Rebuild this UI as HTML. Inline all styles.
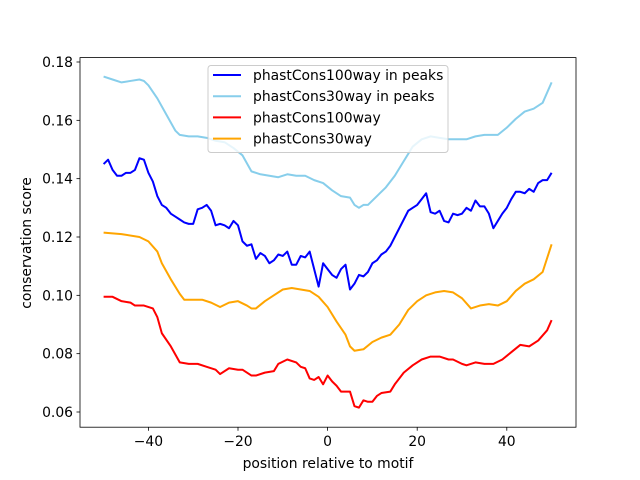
<!DOCTYPE html>
<html><head><meta charset="utf-8"><style>
body{margin:0;background:#fff}
svg{display:block;font-family:"DejaVu Sans","Liberation Sans",sans-serif}
</style></head><body>
<svg id="chart" width="640" height="480">
<rect x="0" y="0" width="640" height="480" fill="#fff"/>
<g id="series"></g>
<rect x="80" y="57.6" width="496" height="369.6" fill="none" stroke="#000" stroke-width="0.8"/>
<g id="axes"></g>
<text x="328" y="468" text-anchor="middle" font-size="13.9">position relative to motif</text>
<text transform="translate(31,243) rotate(-90)" text-anchor="middle" font-size="13.9">conservation score</text>
<g id="legend"></g>
</svg>
<script>
const xTicks=[-40,-20,0,20,40];
const yTicks=[0.06,0.08,0.10,0.12,0.14,0.16,0.18];
const yTickLabels=["0.06","0.08","0.10","0.12","0.14","0.16","0.18"];
const seriesNames=["phastCons100way in peaks","phastCons30way in peaks","phastCons100way","phastCons30way"];
const seriesColors=["#0000ff","#87ceeb","#ff0000","#ffa500"];
const blueX=[-50,-49,-48,-47,-46,-45,-44,-43,-42,-41,-40,-39,-38,-37,-36,-35,-34,-33,-32,-31,-30,-29,-28,-27,-26,-25,-24,-23,-22,-21,-20,-19,-18,-17,-16,-15,-14,-13,-12,-11,-10,-9,-8,-7,-6,-5,-4,-3,-2,-1,0,1,2,3,4,5,6,7,8,9,10,11,12,13,14,15,16,17,18,19,20,21,22,23,24,25,26,27,28,29,30,31,32,33,34,35,36,37,38,39,40,41,42,43,44,45,46,47,48,49,50];
const blueY=[0.145,0.1465,0.143,0.141,0.141,0.142,0.142,0.143,0.147,0.1465,0.142,0.139,0.134,0.131,0.130,0.128,0.127,0.126,0.125,0.1245,0.1245,0.1295,0.130,0.131,0.129,0.124,0.1245,0.124,0.123,0.1255,0.124,0.1185,0.117,0.1175,0.1125,0.1145,0.1135,0.111,0.112,0.114,0.1135,0.115,0.1105,0.1105,0.1135,0.113,0.115,0.109,0.103,0.111,0.109,0.107,0.106,0.109,0.1105,0.102,0.104,0.107,0.1065,0.108,0.111,0.112,0.114,0.115,0.117,0.120,0.123,0.126,0.129,0.130,0.131,0.133,0.135,0.1285,0.128,0.129,0.1255,0.125,0.128,0.1275,0.128,0.130,0.129,0.1325,0.1305,0.1305,0.128,0.123,0.1255,0.128,0.130,0.133,0.1355,0.1355,0.135,0.1365,0.1355,0.1385,0.1395,0.1395,0.142];
const skyX=[-50,-48,-46,-44,-42,-41,-40,-38,-36,-34,-33,-31,-29,-27,-25,-23,-21,-19,-17,-15,-13,-11,-9,-7,-5,-3,-1,1,3,5,6,7,8,9,11,13,15,17,19,21,23,25,27,29,31,33,35,37,38,40,42,44,46,48,50];
const skyY=[0.175,0.174,0.173,0.1735,0.174,0.1735,0.172,0.1675,0.162,0.1565,0.155,0.1545,0.1545,0.154,0.153,0.1525,0.1505,0.148,0.1425,0.1415,0.141,0.1405,0.1415,0.141,0.141,0.1395,0.1385,0.136,0.134,0.1335,0.131,0.130,0.131,0.131,0.134,0.137,0.141,0.146,0.151,0.1535,0.1545,0.154,0.1535,0.1535,0.1535,0.1545,0.155,0.155,0.155,0.1575,0.1605,0.163,0.164,0.166,0.173];
const redX=[-50,-48,-46,-44,-43,-41,-39,-38,-37,-35,-33,-31,-29,-27,-25,-24,-22,-20,-19,-17,-16,-14,-12,-11,-9,-7,-6,-5,-4,-3,-2,-1,0,1,2,3,5,6,7,8,9,10,11,12,14,15,17,19,21,23,25,27,28,30,31,33,35,37,39,41,43,45,47,49,50];
const redY=[0.0995,0.0995,0.098,0.0975,0.0965,0.0965,0.0955,0.0925,0.087,0.0825,0.077,0.0765,0.0765,0.0755,0.0745,0.073,0.075,0.0745,0.0745,0.0725,0.0725,0.0735,0.074,0.0765,0.078,0.077,0.0755,0.075,0.0715,0.071,0.072,0.0695,0.0725,0.0705,0.069,0.067,0.067,0.062,0.0615,0.064,0.0635,0.0635,0.0655,0.0665,0.067,0.0695,0.0735,0.076,0.078,0.079,0.079,0.078,0.078,0.0765,0.076,0.077,0.0765,0.0765,0.078,0.0805,0.083,0.0825,0.0845,0.088,0.0915];
const orangeX=[-50,-46,-42,-40,-38,-37,-35,-33,-32,-28,-26,-24,-22,-20,-18,-17,-16,-14,-12,-10,-8,-6,-4,-2,0,2,4,5,6,8,10,12,14,16,18,20,22,24,26,28,30,32,34,36,38,40,42,44,46,48,50];
const orangeY=[0.1215,0.121,0.120,0.1185,0.115,0.111,0.1055,0.1005,0.0985,0.0985,0.0975,0.096,0.0975,0.098,0.0965,0.0955,0.0955,0.098,0.100,0.102,0.1025,0.102,0.1015,0.0995,0.096,0.091,0.0865,0.0825,0.081,0.0815,0.084,0.0855,0.0865,0.090,0.095,0.098,0.100,0.101,0.1015,0.101,0.099,0.0955,0.0965,0.097,0.0965,0.098,0.1015,0.104,0.1055,0.108,0.1175];

const NS="http://www.w3.org/2000/svg";
const px=v=>327.6+v*4.48;
const py=v=>412-(v-0.06)*2916.7;
function mk(t,a,p){const e=document.createElementNS(NS,t);for(const k in a)e.setAttribute(k,a[k]);p.appendChild(e);return e;}
const sg=document.getElementById('series');
const all=[[blueX,blueY],[skyX,skyY],[redX,redY],[orangeX,orangeY]];
const sNames=['series-phastcons100way-peaks','series-phastcons30way-peaks','series-phastcons100way','series-phastcons30way'];
all.forEach((s,i)=>{
  const d=s[0].map((x,j)=>(j?'L':'M')+px(x).toFixed(2)+' '+py(s[1][j]).toFixed(2)).join(' ');
  const p=mk('path',{d:d,fill:'none',stroke:seriesColors[i],'stroke-width':2,'stroke-linejoin':'round'},sg);
  
  
});
const ag=document.getElementById('axes');
xTicks.forEach(t=>{
  const l=mk('line',{x1:px(t),x2:px(t),y1:427.2,y2:430.7,stroke:'#000','stroke-width':0.8},ag);
  
  
  const tx=mk('text',{x:px(t),y:446,'text-anchor':'middle','font-size':13.9},ag);
  tx.textContent=(t<0?'\u2212'+(-t):String(t));
  
  
});
yTicks.forEach((t,i)=>{
  const l=mk('line',{x1:76.5,x2:80,y1:py(t),y2:py(t),stroke:'#000','stroke-width':0.8},ag);
  
  
  const tx=mk('text',{x:73,y:py(t)+5,'text-anchor':'end','font-size':13.9},ag);
  tx.textContent=yTickLabels[i];
  
  
});
const lg=document.getElementById('legend');
mk('rect',{x:208,y:65.5,width:240,height:87,rx:3,fill:'#fff','fill-opacity':0.8,stroke:'#ccc'},lg);
seriesNames.forEach((n,i)=>{
  const y=75+i*21.2;
  const l=mk('line',{x1:213,x2:241,y1:y,y2:y,stroke:seriesColors[i],'stroke-width':2},lg);
  
  
  const t=mk('text',{x:253,y:y+5,'font-size':13.9},lg);
  t.textContent=n;
  
  
});
</script>
</body></html>
